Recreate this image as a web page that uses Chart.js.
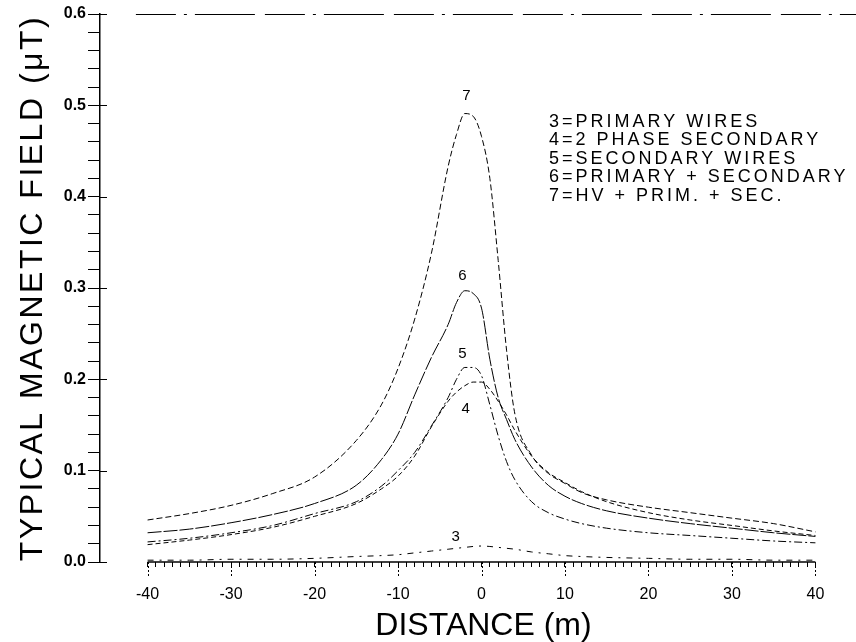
<!DOCTYPE html>
<html><head><meta charset="utf-8">
<script src="https://cdn.jsdelivr.net/npm/chart.js@4.4.1/dist/chart.umd.min.js"></script>
<style>html,body{margin:0;padding:0;background:#fff;}#wrap{width:856px;height:642px;}</style>
</head><body><div id="wrap"><canvas id="c" width="856" height="642"></canvas></div>
<script>
// ---- data ----
const distances = [-40,-35,-30,-25,-20,-15,-12,-10,-8,-6,-4,-3,-2,-1,0,1,2,3,4,6,8,10,12,15,20,25,30,35,40];
const curve3 = [0.002,0.002,0.003,0.003,0.004,0.006,0.007,0.008,0.010,0.012,0.014,0.015,0.016,0.017,0.0175,0.017,0.016,0.015,0.014,0.011,0.009,0.007,0.006,0.005,0.004,0.003,0.003,0.002,0.002];
const curve4 = [0.019,0.024,0.030,0.038,0.050,0.064,0.080,0.094,0.116,0.148,0.176,0.186,0.193,0.197,0.197,0.189,0.176,0.161,0.144,0.116,0.098,0.087,0.077,0.066,0.054,0.046,0.040,0.034,0.029];
const curve5 = [0.022,0.026,0.032,0.040,0.053,0.066,0.083,0.100,0.120,0.149,0.180,0.200,0.213,0.213,0.204,0.172,0.138,0.110,0.090,0.066,0.054,0.047,0.042,0.037,0.032,0.029,0.026,0.023,0.021];
const curve6 = [0.032,0.036,0.043,0.052,0.064,0.084,0.112,0.140,0.183,0.224,0.260,0.284,0.297,0.294,0.278,0.222,0.180,0.156,0.134,0.104,0.084,0.072,0.064,0.056,0.048,0.042,0.037,0.032,0.028];
const curve7 = [0.046,0.053,0.062,0.075,0.093,0.133,0.172,0.212,0.266,0.338,0.433,0.468,0.491,0.488,0.466,0.420,0.330,0.232,0.162,0.117,0.097,0.086,0.076,0.068,0.060,0.054,0.048,0.042,0.033];
const curveNames = ['3','4','5','6','7'];
const legendLines = ['3=PRIMARY WIRES','4=2 PHASE SECONDARY','5=SECONDARY WIRES','6=PRIMARY + SECONDARY','7=HV + PRIM. + SEC.'];
const xTickValues = [-40,-30,-20,-10,0,10,20,30,40];
const yTickValues = [0,0.1,0.2,0.3,0.4,0.5,0.6];
const yTickLabels = ['0.0','0.1','0.2','0.3','0.4','0.5','0.6'];
const xTitle = 'DISTANCE (m)';
const yTitle = 'TYPICAL MAGNETIC FIELD (\u03bcT)';

// ---- styling / annotation placement (not data) ----
const curveSeries = [curve3, curve4, curve5, curve6, curve7];
const dashes = [[6,6,2,6],[5,3],[8,3,2,3],[14,2],[6,3]];
const curveLabelAt = [[-3.1,0.027],[-1.9,0.168],[-2.3,0.228],[-2.3,0.313],[-1.8,0.51]];
const FONT = '"Liberation Sans", Arial, sans-serif';

const datasets = curveSeries.map((s, k) => ({
  label: curveNames[k],
  data: distances.map((d, i) => ({x: d, y: s[i]})),
  borderColor: '#000',
  borderWidth: 1,
  borderDash: dashes[k],
  pointRadius: 0,
  fill: false,
  cubicInterpolationMode: 'monotone'
}));

const decor = {
  id: 'decor',
  afterDraw(chart) {
    const {ctx, chartArea: a, scales: {x, y}} = chart;
    ctx.save();
    ctx.strokeStyle = '#000'; ctx.fillStyle = '#000';
    const y0 = y.getPixelForValue(0);
    // x axis line between first and last tick
    ctx.lineWidth = 1.5;
    ctx.beginPath();
    ctx.moveTo(x.getPixelForValue(xTickValues[0]), y0);
    ctx.lineTo(x.getPixelForValue(xTickValues[xTickValues.length-1]), y0);
    ctx.stroke();
    // longer major x ticks (dotted)
    ctx.lineWidth = 1;
    ctx.setLineDash([2,2]);
    xTickValues.forEach(v => { const px = Math.round(x.getPixelForValue(v)) + 0.5; ctx.beginPath(); ctx.moveTo(px, y0); ctx.lineTo(px, y0 + 14); ctx.stroke(); });
    ctx.setLineDash([]);
    // y major ticks crossing the axis
    yTickValues.forEach(v => { const py = Math.round(y.getPixelForValue(v)) + 0.5; ctx.beginPath(); ctx.moveTo(a.left, py); ctx.lineTo(a.left + 7, py); ctx.stroke(); });
    // top frame (dashed)
    ctx.setLineDash([40,8,3,8,60,10]);
    const yt = Math.round(y.getPixelForValue(0.6)) + 0.5;
    ctx.beginPath(); ctx.moveTo(x.getPixelForValue(-41.4), yt); ctx.lineTo(chart.width, yt); ctx.stroke();
    ctx.setLineDash([]);
    // curve number labels
    ctx.font = '15px ' + FONT;
    ctx.textAlign = 'center'; ctx.textBaseline = 'middle';
    curveLabelAt.forEach((p, k) => ctx.fillText(curveNames[k], x.getPixelForValue(p[0]), y.getPixelForValue(p[1])));
    // legend text
    ctx.font = '18px ' + FONT;
    ctx.letterSpacing = '3px';
    ctx.textAlign = 'left';
    legendLines.forEach((t, i) => ctx.fillText(t, 549, 122 + i * 18.5));
    // x title
    ctx.letterSpacing = '0px';
    ctx.font = '32px ' + FONT;
    ctx.textAlign = 'center';
    ctx.fillText(xTitle, x.getPixelForValue(0) + 2, 626);
    // y title
    ctx.letterSpacing = '2.5px';
    ctx.translate(33, (a.top + a.bottom) / 2);
    ctx.rotate(-Math.PI / 2);
    ctx.fillText(yTitle, 0, 0);
    ctx.restore();
  }
};

new Chart(document.getElementById('c'), {
  type: 'line',
  data: {datasets},
  options: {
    responsive: false,
    animation: false,
    devicePixelRatio: 1,
    layout: {padding: {top: 14, right: 3, left: 0, bottom: 0}},
    plugins: {legend: {display: false}, tooltip: {enabled: false}},
    scales: {
      x: {
        type: 'linear', min: -45.7, max: 44.5,
        afterBuildTicks: s => { const t = []; for (let v = xTickValues[0]; v <= xTickValues[xTickValues.length-1]; v++) t.push({value: v}); s.ticks = t; },
        afterFit: s => { s.height = 80; },
        border: {display: false},
        grid: {drawOnChartArea: false, drawTicks: true, tickLength: 5, color: '#000', lineWidth: 1},
        ticks: {autoSkip: false, maxRotation: 0, padding: 18, color: '#000', font: {family: FONT, size: 16},
          callback: v => xTickValues.includes(v) ? String(v) : ''}
      },
      y: {
        type: 'linear', min: 0, max: 0.6,
        afterBuildTicks: s => { const t = []; for (let k = 0; k <= 30; k++) t.push({value: k * 0.02}); s.ticks = t; },
        afterFit: s => { s.width = 100; },
        border: {display: true, color: '#000', width: 1.5},
        grid: {drawOnChartArea: false, drawTicks: true, tickLength: 12, color: '#000', lineWidth: 1},
        ticks: {autoSkip: false, padding: 2, color: '#000', font: {family: FONT, size: 16, weight: 'bold'},
          callback: (v, i) => (i % 5 === 0) ? yTickLabels[i / 5] : ''}
      }
    }
  },
  plugins: [decor]
});
</script></body></html>
